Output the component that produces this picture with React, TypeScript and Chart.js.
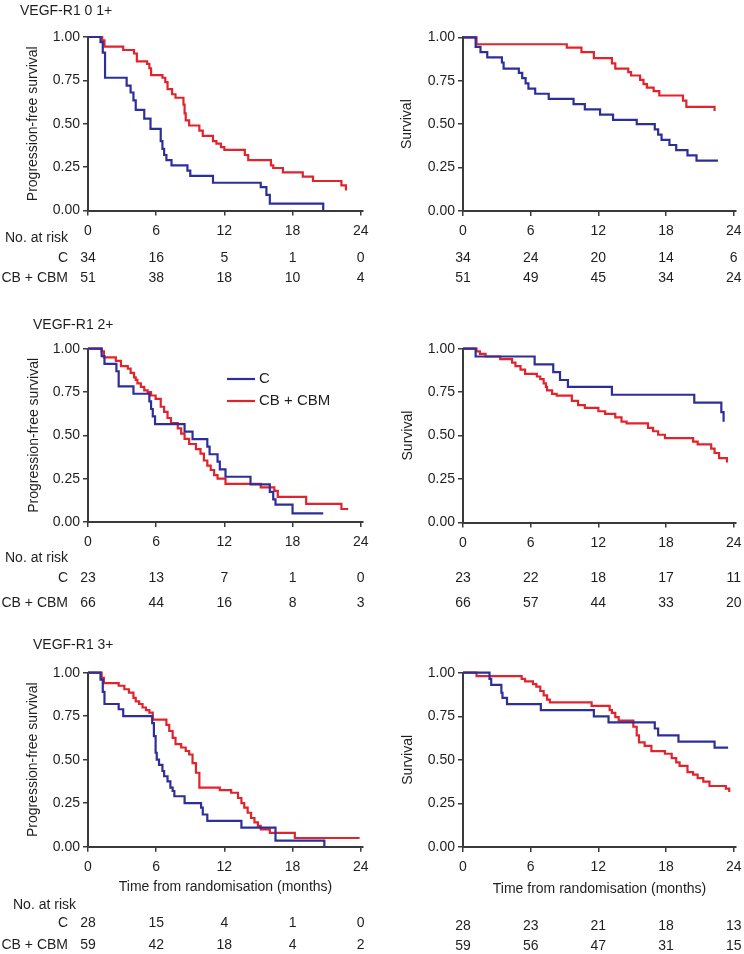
import React, { useEffect, useRef } from 'react';
import { Chart, registerables } from 'chart.js';
Chart.register(...registerables);

const FONT = '"Liberation Sans", Arial, Helvetica, sans-serif';
const BLUE = '#2c2f9a';
const RED = '#e2232b';
const AXIS = '#3a3a3a';
const TEXT = '#1e1e1e';

// ---- shared labels / ticks ----
const xTicks = [0, 6, 12, 18, 24];
const yTicks = [0, 0.25, 0.5, 0.75, 1];
const seriesLabels = ['C', 'CB + CBM'];
const riskHeading = 'No. at risk';
const panelTitles = ['VEGF-R1 0 1+', 'VEGF-R1 2+', 'VEGF-R1 3+'];
const yTitlePFS = 'Progression-free survival';
const yTitleOS = 'Survival';
const xTitle = 'Time from randomisation (months)';

// ---- VEGF-R1 0 1+ : PFS ----
const p1C_t = [0, 1.1, 1.3, 1.5, 3.4, 3.75, 4.0, 4.2, 4.95, 5.5, 6.4, 6.55, 6.7, 6.9, 7.35, 8.75, 9.0, 11.0, 15.2, 15.7, 16.0, 20.7];
const p1C_s = [1, 0.97, 0.91, 0.765, 0.72, 0.68, 0.635, 0.58, 0.53, 0.47, 0.4, 0.355, 0.32, 0.29, 0.26, 0.23, 0.2, 0.16, 0.135, 0.09, 0.04, 0];
const p1B_t = [0, 1.25, 1.45, 3.1, 4.05, 4.3, 5.2, 5.4, 5.55, 6.55, 6.8, 7.0, 7.4, 7.7, 8.4, 8.5, 8.6, 8.9, 9.8, 10.1, 11.0, 11.3, 11.7, 12.0, 13.8, 14.1, 16.1, 16.3, 17.15, 18.9, 19.8, 22.3, 22.7];
const p1B_s = [1, 0.98, 0.945, 0.925, 0.905, 0.86, 0.845, 0.82, 0.78, 0.765, 0.74, 0.7, 0.67, 0.65, 0.61, 0.56, 0.52, 0.49, 0.46, 0.43, 0.4, 0.385, 0.365, 0.35, 0.32, 0.29, 0.26, 0.245, 0.22, 0.195, 0.17, 0.145, 0.115];
const p1RiskC = [34, 16, 5, 1, 0];
const p1RiskB = [51, 38, 18, 10, 4];

// ---- VEGF-R1 0 1+ : OS ----
const p2C_t = [0, 1.12, 1.55, 2.15, 3.45, 3.6, 4.95, 5.25, 5.55, 5.8, 6.4, 7.6, 9.8, 10.8, 12.15, 13.3, 15.4, 17.0, 17.3, 17.6, 18.3, 18.9, 19.9, 20.7, 22.6];
const p2C_s = [1, 0.945, 0.915, 0.885, 0.855, 0.82, 0.795, 0.765, 0.735, 0.705, 0.675, 0.645, 0.615, 0.585, 0.555, 0.525, 0.5, 0.47, 0.44, 0.41, 0.38, 0.35, 0.32, 0.29, 0.29];
const p2B_t = [0, 1.2, 9.2, 10.5, 11.6, 13.2, 13.5, 14.65, 14.9, 15.7, 16.0, 16.3, 16.9, 17.4, 19.5, 19.8, 22.3];
const p2B_s = [1, 0.96, 0.94, 0.915, 0.88, 0.85, 0.82, 0.8, 0.78, 0.755, 0.73, 0.71, 0.69, 0.665, 0.635, 0.6, 0.575];
const p2RiskC = [34, 24, 20, 14, 6];
const p2RiskB = [51, 49, 45, 34, 24];

// ---- VEGF-R1 2+ : PFS ----
const p3C_t = [0, 1.2, 1.45, 2.5, 2.7, 4.0, 5.4, 5.55, 5.7, 5.9, 8.5, 9.2, 10.5, 10.7, 11.4, 11.6, 12.1, 14.3, 16.0, 16.3, 16.5, 18.0, 20.7];
const p3C_s = [1, 0.957, 0.913, 0.87, 0.783, 0.74, 0.696, 0.652, 0.609, 0.565, 0.522, 0.478, 0.435, 0.391, 0.348, 0.304, 0.261, 0.217, 0.174, 0.13, 0.1, 0.05, 0.05];
const p3B_t = [0, 1.2, 1.4, 2.45, 2.9, 3.5, 3.75, 4.05, 4.2, 4.35, 4.65, 4.95, 5.25, 5.55, 5.95, 6.4, 6.7, 7.0, 7.3, 7.9, 8.2, 8.5, 8.9, 9.5, 9.9, 10.2, 10.5, 10.8, 11.1, 11.4, 12.1, 15.2, 16.4, 16.7, 19.2, 22.3, 22.9];
const p3B_s = [1, 0.985, 0.95, 0.93, 0.9, 0.885, 0.86, 0.835, 0.82, 0.8, 0.78, 0.76, 0.75, 0.73, 0.71, 0.665, 0.635, 0.6, 0.57, 0.54, 0.51, 0.48, 0.45, 0.42, 0.395, 0.355, 0.325, 0.3, 0.27, 0.25, 0.22, 0.2, 0.18, 0.145, 0.105, 0.075, 0.075];
const p3RiskC = [23, 13, 7, 1, 0];
const p3RiskB = [66, 44, 16, 8, 3];

// ---- VEGF-R1 2+ : OS ----
const p4C_t = [0, 1.12, 6.35, 8.0, 8.6, 9.3, 13.2, 20.5, 22.9, 23.1];
const p4C_s = [1, 0.955, 0.91, 0.865, 0.82, 0.78, 0.735, 0.69, 0.635, 0.58];
const p4B_t = [0, 1.2, 1.5, 2.0, 3.3, 4.35, 4.65, 5.1, 5.5, 6.55, 6.85, 7.15, 7.35, 7.45, 7.9, 8.3, 9.65, 10.2, 10.8, 12.0, 12.6, 13.5, 14.05, 14.5, 16.4, 16.85, 17.3, 17.9, 20.4, 20.8, 22.0, 22.3, 22.7, 23.4];
const p4B_s = [1, 0.985, 0.97, 0.955, 0.94, 0.92, 0.9, 0.88, 0.855, 0.84, 0.825, 0.8, 0.78, 0.76, 0.74, 0.73, 0.7, 0.675, 0.66, 0.64, 0.625, 0.605, 0.58, 0.57, 0.545, 0.525, 0.505, 0.485, 0.465, 0.45, 0.425, 0.4, 0.37, 0.345];
const p4RiskC = [23, 22, 18, 17, 11];
const p4RiskB = [66, 57, 44, 33, 20];

// ---- VEGF-R1 3+ : PFS ----
const p5C_t = [0, 1.1, 1.3, 1.45, 2.7, 3.1, 5.65, 5.8, 5.95, 6.05, 6.25, 6.55, 6.7, 7.0, 7.25, 7.45, 7.6, 8.5, 9.95, 10.1, 10.5, 13.5, 16.5, 20.8];
const p5C_s = [1, 0.96, 0.89, 0.82, 0.79, 0.75, 0.71, 0.635, 0.54, 0.5, 0.47, 0.435, 0.405, 0.375, 0.34, 0.32, 0.29, 0.25, 0.225, 0.185, 0.148, 0.11, 0.035, 0];
const p5B_t = [0, 1.2, 1.4, 2.7, 3.2, 3.6, 4.0, 4.2, 4.5, 4.8, 5.1, 5.4, 5.7, 6.9, 7.15, 7.45, 7.7, 8.2, 8.6, 8.9, 9.2, 9.5, 9.8, 11.6, 12.6, 13.2, 13.5, 13.75, 14.05, 14.35, 14.65, 14.95, 15.2, 16.0, 18.2, 23.9];
const p5B_s = [1, 0.97, 0.94, 0.925, 0.905, 0.885, 0.855, 0.835, 0.82, 0.8, 0.785, 0.77, 0.73, 0.7, 0.665, 0.625, 0.59, 0.57, 0.55, 0.53, 0.48, 0.425, 0.34, 0.325, 0.31, 0.28, 0.25, 0.225, 0.195, 0.165, 0.14, 0.12, 0.1, 0.08, 0.05, 0.05];
const p5RiskC = [28, 15, 4, 1, 0];
const p5RiskB = [59, 42, 18, 4, 2];

// ---- VEGF-R1 3+ : OS ----
const p6C_t = [0, 2.35, 2.5, 3.4, 3.5, 3.9, 6.9, 11.6, 12.9, 17.0, 17.3, 19.1, 22.3, 23.5];
const p6C_s = [1, 0.965, 0.93, 0.885, 0.855, 0.82, 0.785, 0.75, 0.715, 0.68, 0.64, 0.605, 0.57, 0.57];
const p6B_t = [0, 1.2, 5.2, 5.5, 6.2, 6.5, 6.85, 7.15, 7.45, 7.7, 11.4, 13.0, 13.2, 13.5, 13.8, 15.1, 15.4, 15.6, 16.1, 16.7, 17.9, 18.5, 18.9, 19.2, 19.9, 20.4, 20.8, 21.3, 21.85, 23.3, 23.6];
const p6B_s = [1, 0.98, 0.965, 0.95, 0.935, 0.92, 0.895, 0.87, 0.845, 0.83, 0.81, 0.785, 0.77, 0.745, 0.725, 0.69, 0.64, 0.6, 0.58, 0.55, 0.535, 0.51, 0.485, 0.465, 0.43, 0.415, 0.395, 0.375, 0.35, 0.335, 0.315];
const p6RiskC = [28, 23, 21, 18, 13];
const p6RiskB = [59, 56, 47, 31, 15];

type PanelCfg = {
  left: number; top: number; width: number; height: number;
  chartL: number; chartR: number; chartT: number; chartB: number;
  curves: [number[], number[], number[], number[]];
  risk: [number[], number[]];
  riskY: [number, number];
  yTitle: string; yTitleX: number;
  title?: string; titleX?: number; titleY?: number;
  riskHeadX?: number; riskHeadY?: number; rowLabelX?: number;
  xTitleY?: number; legend?: { x: number; y: number };
};

const panels: PanelCfg[] = [
  { left: 0, top: 0, width: 372, height: 300, chartL: 88, chartR: 363, chartT: 37, chartB: 210.5,
    curves: [p1C_t, p1C_s, p1B_t, p1B_s], risk: [p1RiskC, p1RiskB], riskY: [258, 278],
    yTitle: yTitlePFS, yTitleX: 33, title: panelTitles[0], titleX: 20, titleY: 11,
    riskHeadX: 5, riskHeadY: 238, rowLabelX: 68 },
  { left: 372, top: 0, width: 372, height: 300, chartL: 91, chartR: 364, chartT: 37.3, chartB: 211,
    curves: [p2C_t, p2C_s, p2B_t, p2B_s], risk: [p2RiskC, p2RiskB], riskY: [258, 278],
    yTitle: yTitleOS, yTitleX: 35 },
  { left: 0, top: 300, width: 372, height: 320, chartL: 88, chartR: 363, chartT: 48.7, chartB: 222,
    curves: [p3C_t, p3C_s, p3B_t, p3B_s], risk: [p3RiskC, p3RiskB], riskY: [278, 303],
    yTitle: yTitlePFS, yTitleX: 34, title: panelTitles[1], titleX: 33, titleY: 25,
    riskHeadX: 5, riskHeadY: 258, rowLabelX: 68, legend: { x: 227, y: 79 } },
  { left: 372, top: 300, width: 372, height: 320, chartL: 91, chartR: 364, chartT: 48.7, chartB: 222.5,
    curves: [p4C_t, p4C_s, p4B_t, p4B_s], risk: [p4RiskC, p4RiskB], riskY: [278, 303],
    yTitle: yTitleOS, yTitleX: 36 },
  { left: 0, top: 620, width: 372, height: 334, chartL: 88, chartR: 363, chartT: 52.7, chartB: 226.7,
    curves: [p5C_t, p5C_s, p5B_t, p5B_s], risk: [p5RiskC, p5RiskB], riskY: [303, 325],
    yTitle: yTitlePFS, yTitleX: 33, title: panelTitles[2], titleX: 33, titleY: 25,
    riskHeadX: 13, riskHeadY: 285, rowLabelX: 68, xTitleY: 267 },
  { left: 372, top: 620, width: 372, height: 334, chartL: 91, chartR: 364, chartT: 52.7, chartB: 227,
    curves: [p6C_t, p6C_s, p6B_t, p6B_s], risk: [p6RiskC, p6RiskB], riskY: [306, 326],
    yTitle: yTitleOS, yTitleX: 36, xTitleY: 269 },
];

const toPts = (t: number[], s: number[]) => t.map((x, i) => ({ x, y: s[i] }));

function makeExtras(p: PanelCfg) {
  return {
    id: 'kmExtras',
    afterDraw(chart: any) {
      const ctx = chart.ctx as CanvasRenderingContext2D;
      const xs = chart.scales.x;
      const ca = chart.chartArea;
      ctx.save();
      ctx.fillStyle = TEXT;
      ctx.font = `14px ${FONT}`;
      ctx.textBaseline = 'middle';
      if (p.title) {
        ctx.textAlign = 'left';
        ctx.fillText(p.title, p.titleX!, p.titleY!);
      }
      ctx.save();
      ctx.translate(p.yTitleX, (ca.top + ca.bottom) / 2);
      ctx.rotate(-Math.PI / 2);
      ctx.textAlign = 'center';
      ctx.fillText(p.yTitle, 0, 0);
      ctx.restore();
      if (p.xTitleY !== undefined) {
        ctx.textAlign = 'center';
        ctx.fillText(xTitle, (ca.left + ca.right) / 2, p.xTitleY);
      }
      if (p.riskHeadY !== undefined) {
        ctx.textAlign = 'left';
        ctx.fillText(riskHeading, p.riskHeadX!, p.riskHeadY);
      }
      p.risk.forEach((row, r) => {
        if (p.rowLabelX !== undefined) {
          ctx.textAlign = 'right';
          ctx.fillText(seriesLabels[r], p.rowLabelX, p.riskY[r]);
        }
        ctx.textAlign = 'center';
        row.forEach((n, i) => {
          ctx.fillText(String(n), xs.getPixelForValue(xTicks[i]), p.riskY[r]);
        });
      });
      if (p.legend) {
        ctx.font = `15px ${FONT}`;
        ctx.textAlign = 'left';
        chart.data.datasets.forEach((ds: any, i: number) => {
          const y = p.legend!.y + i * 22;
          ctx.strokeStyle = ds.borderColor;
          ctx.lineWidth = 2.2;
          ctx.beginPath();
          ctx.moveTo(p.legend!.x, y);
          ctx.lineTo(p.legend!.x + 28, y);
          ctx.stroke();
          ctx.fillStyle = TEXT;
          ctx.fillText(ds.label, p.legend!.x + 32, y);
        });
      }
      ctx.restore();
    },
  };
}

function KMPanel({ p }: { p: PanelCfg }) {
  const ref = useRef<HTMLCanvasElement>(null);
  useEffect(() => {
    const [ct, cs, bt, bs] = p.curves;
    const chart = new Chart(ref.current!, {
      type: 'line',
      data: {
        datasets: [
          { label: seriesLabels[0], data: toPts(ct, cs), borderColor: BLUE, borderWidth: 2.2, pointRadius: 0, stepped: 'before', fill: false, clip: 4 } as any,
          { label: seriesLabels[1], data: toPts(bt, bs), borderColor: RED, borderWidth: 2.2, pointRadius: 0, stepped: 'before', fill: false, clip: 4 } as any,
        ],
      },
      options: {
        animation: false,
        responsive: false,
        events: [],
        layout: { padding: { left: 0, top: p.chartT, right: p.width - p.chartR, bottom: 0 } },
        plugins: { legend: { display: false }, tooltip: { enabled: false } },
        scales: {
          x: {
            type: 'linear', min: 0, max: 24.2,
            afterBuildTicks: (s: any) => { s.ticks = xTicks.map((v) => ({ value: v })); },
            afterFit: (s: any) => { s.height = p.height - p.chartB; s.paddingLeft = 0; s.paddingRight = 0; },
            ticks: { font: { family: FONT, size: 14 }, color: TEXT, padding: 7, maxRotation: 0, autoSkip: false },
            grid: { drawOnChartArea: false, drawTicks: true, tickLength: 5, color: AXIS, lineWidth: 1.5 },
            border: { display: true, color: AXIS, width: 2 },
          },
          y: {
            type: 'linear', min: 0, max: 1,
            afterBuildTicks: (s: any) => { s.ticks = yTicks.map((v) => ({ value: v })); },
            afterFit: (s: any) => { s.width = p.chartL; s.paddingTop = 0; s.paddingBottom = 0; },
            ticks: { font: { family: FONT, size: 14 }, color: TEXT, padding: 3, callback: (v: any) => Number(v).toFixed(2) },
            grid: { drawOnChartArea: false, drawTicks: true, tickLength: 5, color: AXIS, lineWidth: 1.5 },
            border: { display: true, color: AXIS, width: 2 },
          },
        },
      } as any,
      plugins: [makeExtras(p)],
    });
    return () => chart.destroy();
  }, [p]);
  return (
    <canvas
      ref={ref}
      width={p.width}
      height={p.height}
      style={{ position: 'absolute', left: p.left, top: p.top, width: p.width, height: p.height }}
    />
  );
}

export default function App() {
  return (
    <div style={{ position: 'absolute', left: 0, top: 0, width: 744, height: 954, background: '#ffffff' }}>
      {panels.map((p, i) => (
        <KMPanel key={i} p={p} />
      ))}
    </div>
  );
}
